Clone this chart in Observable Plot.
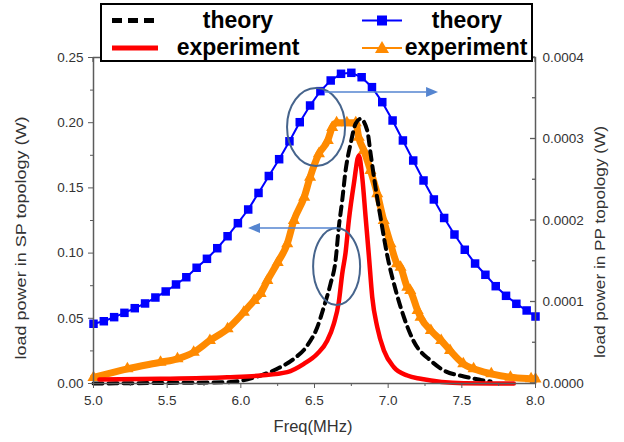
<!DOCTYPE html>
<html><head><meta charset="utf-8">
<script src="https://cdn.jsdelivr.net/npm/d3@7"></script>
<script src="https://cdn.jsdelivr.net/npm/@observablehq/plot@0.6"></script>
<style>body{margin:0;background:#fff;font-family:"Liberation Sans",Arial,sans-serif}</style>
</head><body><div id="chart"></div>
<script>
// ---- data ----
// PP topology, theory (right axis, W)
const ppTheoryFreq = [5.00,5.07,5.14,5.21,5.28,5.35,5.42,5.49,5.56,5.63,5.70,5.77,5.84,5.91,5.98,6.05,6.12,6.19,6.26,6.33,6.40,6.47,6.54,6.61,6.68,6.75,6.82,6.89,6.96,7.03,7.10,7.17,7.24,7.31,7.38,7.45,7.52,7.59,7.66,7.73,7.80,7.87,7.94,8.00];
const ppTheoryPower = [7.33e-5,7.64e-5,8.14e-5,8.67e-5,9.24e-5,9.82e-5,1.055e-4,1.129e-4,1.215e-4,1.304e-4,1.42e-4,1.53e-4,1.66e-4,1.807e-4,1.967e-4,2.135e-4,2.338e-4,2.546e-4,2.752e-4,2.972e-4,3.206e-4,3.411e-4,3.587e-4,3.718e-4,3.80e-4,3.812e-4,3.758e-4,3.636e-4,3.452e-4,3.227e-4,2.982e-4,2.736e-4,2.491e-4,2.258e-4,2.031e-4,1.828e-4,1.641e-4,1.472e-4,1.334e-4,1.194e-4,1.076e-4,9.78e-5,8.96e-5,8.22e-5];
// PP topology, experiment (right axis, W)
const ppExpFreq = [5.00,5.23,5.455,5.57,5.68,5.79,5.91,6.02,6.09,6.134,6.18,6.25,6.315,6.36,6.43,6.47,6.53,6.59,6.62,6.65,6.72,6.78,6.80,6.835,6.88,6.926,6.97,7.016,7.06,7.084,7.13,7.15,7.20,7.22,7.29,7.36,7.42,7.51,7.58,7.70,7.83,7.97,8.00];
const ppExpPower = [7.4e-6,1.80e-5,2.61e-5,3.03e-5,3.84e-5,5.28e-5,6.71e-5,8.75e-5,1.018e-4,1.104e-4,1.264e-4,1.485e-4,1.714e-4,2.0e-4,2.286e-4,2.531e-4,2.818e-4,2.982e-4,3.141e-4,3.20e-4,3.20e-4,3.20e-4,3.02e-4,2.859e-4,2.613e-4,2.328e-4,2.0e-4,1.714e-4,1.469e-4,1.427e-4,1.182e-4,1.141e-4,8.96e-5,8.14e-5,6.5e-5,5.28e-5,4.05e-5,2.42e-5,1.80e-5,1.19e-5,7.7e-6,5.8e-6,5.5e-6];
// SP topology, theory (left axis, W)
const spTheoryFreq = [5.00,5.455,5.91,6.134,6.247,6.36,6.451,6.519,6.563,6.609,6.643,6.665,6.688,6.711,6.745,6.779,6.813,6.858,6.881,6.914,6.948,6.994,7.05,7.107,7.175,7.288,7.378,7.514,7.627,7.695];
const spTheoryPower = [0.000,0.0004,0.001,0.0061,0.0113,0.0189,0.0291,0.0432,0.0585,0.0765,0.0943,0.1199,0.1403,0.1633,0.1838,0.1992,0.203,0.194,0.1761,0.1505,0.1275,0.098,0.072,0.0508,0.032,0.0176,0.0100,0.0054,0.0028,0.0015];
// SP topology, experiment (left axis, W)
const spExpFreq = [5.04,5.455,5.908,6.134,6.315,6.428,6.519,6.587,6.631,6.665,6.688,6.711,6.733,6.767,6.801,6.824,6.847,6.869,6.892,6.926,6.971,7.039,7.13,7.22,7.514,7.853];
const spExpPower = [0.0031,0.0036,0.0048,0.0061,0.0087,0.0151,0.0228,0.033,0.0458,0.0625,0.0841,0.1005,0.125,0.1531,0.1748,0.1582,0.1275,0.0982,0.0662,0.0432,0.0253,0.0125,0.0061,0.0036,0.0002,0.0];

// ticks
const xMajorTicks = [5.0,5.5,6.0,6.5,7.0,7.5,8.0];
const xMinorTicks = [5.25,5.75,6.25,6.75,7.25,7.75];
const leftMajorTicks = [0,0.05,0.10,0.15,0.20,0.25];
const leftMinorTicks = [0.025,0.075,0.125,0.175,0.225];
const rightMajorTicks = [0,0.0001,0.0002,0.0003,0.0004];
const rightMinorTicks = [0.00005,0.00015,0.00025,0.00035];

// text
const xTitle = "Freq(MHz)";
const leftTitle = "load power in SP topology (W)";
const rightTitle = "load power in PP topology (W)";
const legendLabels = ["theory","experiment","theory","experiment"];

// annotations (data units, left-axis W)
const ellipseXLo = [6.317,6.494], ellipseXHi = [6.711,6.813];
const ellipseYLo = [0.1664,0.0598], ellipseYHi = [0.2262,0.1189];
const arrowX1 = [6.575,6.656], arrowX2 = [7.342,6.052];
const arrowY = [0.2232,0.1189];

// ---- build ----
const ratio = 0.25 / 0.0004; // left units per right unit
const zip = (f, p) => f.map((x, i) => ({f: x, p: p[i]}));
const ppTheory = zip(ppTheoryFreq, ppTheoryPower);
const ppExp = zip(ppExpFreq, ppExpPower);
const spTheory = zip(spTheoryFreq, spTheoryPower);
const spExp = zip(spExpFreq, spExpPower);

const axisColor = "#5c5c5c";
const textColor = "#333";
const blue = "#0000ff", orange = "#ff8a00", red = "#ff0000";
const annColor = "#46648c", arrowColor = "#5585d0";

function innerTicks(index, {x, y}, values, dims) {
  const g = d3.create("svg:g").attr("stroke", axisColor).attr("stroke-width", 1.3);
  const right = dims.width - dims.marginRight, top = dims.marginTop;
  for (const t of rightMajorTicks) g.append("line").attr("x1", right).attr("x2", right - 5).attr("y1", y(t * ratio)).attr("y2", y(t * ratio));
  for (const t of rightMinorTicks) g.append("line").attr("x1", right).attr("x2", right - 3).attr("y1", y(t * ratio)).attr("y2", y(t * ratio));
  for (const t of xMajorTicks) g.append("line").attr("y1", top).attr("y2", top + 5).attr("x1", x(t)).attr("x2", x(t));
  for (const t of xMinorTicks) g.append("line").attr("y1", top).attr("y2", top + 3).attr("x1", x(t)).attr("x2", x(t));
  return g.node();
}

function annotations(index, {x, y}) {
  const g = d3.create("svg:g");
  ellipseXLo.forEach((_, i) => {
    const x1 = x(ellipseXLo[i]), x2 = x(ellipseXHi[i]), y1 = y(ellipseYHi[i]), y2 = y(ellipseYLo[i]);
    g.append("ellipse").attr("cx", (x1 + x2) / 2).attr("cy", (y1 + y2) / 2)
      .attr("rx", (x2 - x1) / 2).attr("ry", (y2 - y1) / 2)
      .attr("fill", "none").attr("stroke", annColor).attr("stroke-width", 2);
  });
  arrowX1.forEach((_, i) => {
    const xa = x(arrowX1[i]), xb = x(arrowX2[i]), yy = y(arrowY[i]);
    const dir = Math.sign(xb - xa), L = 12, W = 5;
    g.append("line").attr("x1", xa).attr("x2", xb - dir * L).attr("y1", yy).attr("y2", yy)
      .attr("stroke", arrowColor).attr("stroke-width", 1.6);
    g.append("path").attr("d", `M${xb},${yy}L${xb - dir * L},${yy - W}L${xb - dir * L},${yy + W}Z`).attr("fill", arrowColor);
  });
  return g.node();
}

const plot = Plot.plot({
  width: 624, height: 442,
  marginLeft: 93, marginRight: 89, marginTop: 57, marginBottom: 59,
  style: {fontFamily: "'Liberation Sans', Arial, sans-serif", fontSize: "13.5px", color: textColor, background: "white"},
  x: {domain: [5, 8]},
  y: {domain: [0, 0.25]},
  marks: [
    // data
    Plot.line(ppTheory, {x: "f", y: d => d.p * ratio, stroke: blue, strokeWidth: 2}),
    Plot.dot(ppTheory, {x: "f", y: d => d.p * ratio, symbol: "square", r: 4.8, fill: blue, stroke: "none"}),
    Plot.line(ppExp, {x: "f", y: d => d.p * ratio, stroke: orange, strokeWidth: 7, curve: "monotone-x"}),
    Plot.dot(ppExp, {x: "f", y: d => d.p * ratio, symbol: "triangle", r: 4.5, fill: orange, stroke: "none"}),
    Plot.line(spTheory, {x: "f", y: "p", stroke: "black", strokeWidth: 4, strokeDasharray: "9,6", curve: "monotone-x"}),
    Plot.line(spExp, {x: "f", y: "p", stroke: red, strokeWidth: 4.5, curve: "monotone-x"}),
    annotations,
    // axes
    Plot.frame({stroke: axisColor, strokeWidth: 1.5}),
    Plot.axisX({ticks: xMajorTicks, tickSize: 5, tickPadding: 7, tickFormat: d => d.toFixed(1), stroke: axisColor, label: null, fontSize: 13.5}),
    Plot.axisX({ticks: xMinorTicks, tickSize: 3, tickFormat: () => "", stroke: axisColor, label: null}),
    Plot.axisY({ticks: leftMajorTicks, tickSize: 5, tickPadding: 5, tickFormat: d => d.toFixed(2), stroke: axisColor, label: null}),
    Plot.axisY({ticks: leftMinorTicks, tickSize: 3, tickFormat: () => "", stroke: axisColor, label: null}),
    Plot.axisY({anchor: "right", ticks: rightMajorTicks.map(t => t * ratio), tickSize: 0, tickPadding: 7, tickFormat: d => (d / ratio).toFixed(4), label: null}),
    innerTicks
  ]
});

const svg = d3.select(plot);
// axis titles
svg.append("text").text(xTitle).attr("x", 313).attr("y", 432).attr("text-anchor", "middle")
  .attr("font-size", 16.5).attr("fill", textColor);
svg.append("text").text(leftTitle).attr("transform", "translate(26,238) rotate(-90)").attr("text-anchor", "middle")
  .attr("font-size", 15).attr("fill", textColor).attr("textLength", 243).attr("lengthAdjust", "spacingAndGlyphs");
svg.append("text").text(rightTitle).attr("transform", "translate(605,242) rotate(-90)").attr("text-anchor", "middle")
  .attr("font-size", 15).attr("fill", textColor).attr("textLength", 232).attr("lengthAdjust", "spacingAndGlyphs");

// legend
const lg = svg.append("g");
lg.append("rect").attr("x", 101).attr("y", 4).attr("width", 431).attr("height", 57)
  .attr("fill", "white").attr("stroke", "black").attr("stroke-width", 2);
const rows = [20.5, 48];
const bases = [27.5, 55];
// left column
lg.append("line").attr("x1", 112).attr("x2", 156).attr("y1", rows[0]).attr("y2", rows[0])
  .attr("stroke", "black").attr("stroke-width", 5).attr("stroke-dasharray", "10,6");
lg.append("line").attr("x1", 112).attr("x2", 158).attr("y1", rows[1]).attr("y2", rows[1])
  .attr("stroke", red).attr("stroke-width", 5);
// right column
lg.append("line").attr("x1", 362).attr("x2", 402).attr("y1", rows[0]).attr("y2", rows[0]).attr("stroke", blue).attr("stroke-width", 2);
lg.append("rect").attr("x", 377).attr("y", rows[0] - 5).attr("width", 10).attr("height", 10).attr("fill", blue);
lg.append("line").attr("x1", 362).attr("x2", 402).attr("y1", rows[1]).attr("y2", rows[1]).attr("stroke", orange).attr("stroke-width", 2);
lg.append("path").attr("d", `M382,${rows[1] - 7}L389,${rows[1] + 5}L375,${rows[1] + 5}Z`).attr("fill", orange);
const lx = [238, 238, 467, 466];
const ly = [bases[0], bases[1], bases[0], bases[1]];
legendLabels.forEach((t, i) => {
  lg.append("text").text(t).attr("x", lx[i]).attr("y", ly[i]).attr("text-anchor", "middle")
    .attr("font-size", 23).attr("font-weight", "bold").attr("fill", "black");
});

document.getElementById("chart").appendChild(plot);
</script>
</body></html>
